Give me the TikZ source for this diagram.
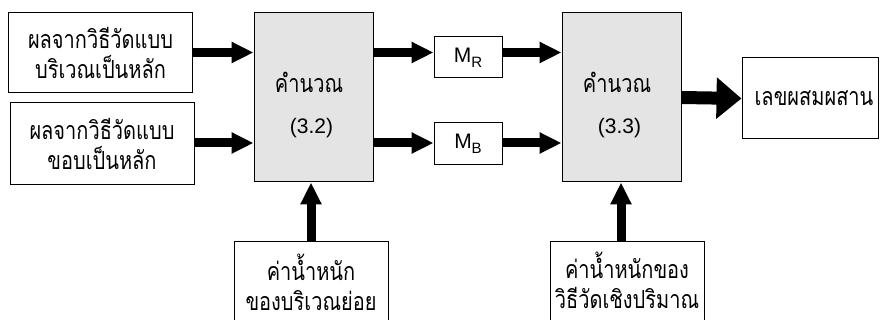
\documentclass[tikz,border=0pt]{standalone}
\usepackage{fontspec}
\setmainfont{Liberation Sans}
\newfontfamily\thai[Script=Thai, FakeStretch=0.8]{Loma}
\usetikzlibrary{arrows.meta}
\definecolor{calcgray}{RGB}{228,228,228}
\newcommand{\thfont}{\thai\fontsize{25}{30}\selectfont}
\newcommand{\mysub}[1]{\raisebox{-5pt}{\fontsize{15}{15}\selectfont #1}}
\tikzset{
  box/.style={draw=black, line width=1pt, fill=white, inner sep=0pt, align=center,
    font=\thfont},
  calcbox/.style={box, fill=calcgray},
  arr/.style={line width=9pt, -{Triangle[length=22pt,width=20pt]}},
  bigarr/.style={line width=13pt, -{Triangle[length=25pt,width=40pt]}},
}
\begin{document}
\begin{tikzpicture}[x=1pt,y=-1pt]
\clip (0,0) rectangle (884,320);
\fill[white] (0,0) rectangle (884,320);
\node[box, minimum width=184pt, minimum height=80pt] (in1) at (100.5,53) {ผลจากวิธีวัดแบบ\\บริเวณเป็นหลัก};
\node[box, minimum width=184pt, minimum height=82pt] (in2) at (102,144) {ผลจากวิธีวัดแบบ\\ขอบเป็นหลัก};
\node[calcbox, minimum width=119pt, minimum height=169pt] (c1) at (313.5,97.5) {};
\node[calcbox, minimum width=119pt, minimum height=169pt] (c2) at (621.5,97.5) {};
\node[font=\thfont] (c1a) at (309,82) {คำนวณ};
\node[font=\fontsize{21}{25}\selectfont] (c1b) at (311.5,128) {(3.2)};
\node[font=\thfont] (c2a) at (617,82) {คำนวณ};
\node[font=\fontsize{21}{25}\selectfont] (c2b) at (619.5,128) {(3.3)};
\node[box, font=\fontsize{21}{25}\selectfont, minimum width=68pt, minimum height=41pt] (mR) at (468,57.5) {M\mysub{R}};
\node[box, font=\fontsize{21}{25}\selectfont, minimum width=68pt, minimum height=42pt] (mB) at (468,144) {M\mysub{B}};
\node[box, minimum width=136pt, minimum height=81pt] (out) at (810,98.5) {\hspace*{8pt}เลขผสมผสาน};
\node[box, minimum width=154pt, minimum height=110pt] (w1) at (311,297) {};
\node[box, minimum width=154pt, minimum height=110pt] (w2) at (627,297) {};
\node[font=\thfont, align=center, anchor=north] (w1t) at (311,250) {ค่าน้ำหนัก\\ของบริเวณย่อย};
\node[font=\thfont, align=center, anchor=north] (w2t) at (627,248) {ค่าน้ำหนักของ\\วิธีวัดเชิงปริมาณ};
\coordinate (r1) at (0,52.5);
\coordinate (r2) at (0,143);
\coordinate (v1) at (311,0);
\coordinate (v2) at (621,0);
\draw[arr] (in1.east |- r1) -- (c1.west |- r1);
\draw[arr] (in2.east |- r2) -- (c1.west |- r2);
\draw[arr] (c1.east |- r1) -- (mR.west |- r1);
\draw[arr] (c1.east |- r2) -- (mB.west |- r2);
\draw[arr] (mR.east |- r1) -- (c2.west |- r1);
\draw[arr] (mB.east |- r2) -- (c2.west |- r2);
\draw[bigarr] (c2.east) -- (out.west);
\draw[arr] (w1.north -| v1) -- (c1.south -| v1);
\draw[arr] (w2.north -| v2) -- (c2.south -| v2);
\end{tikzpicture}
\end{document}
